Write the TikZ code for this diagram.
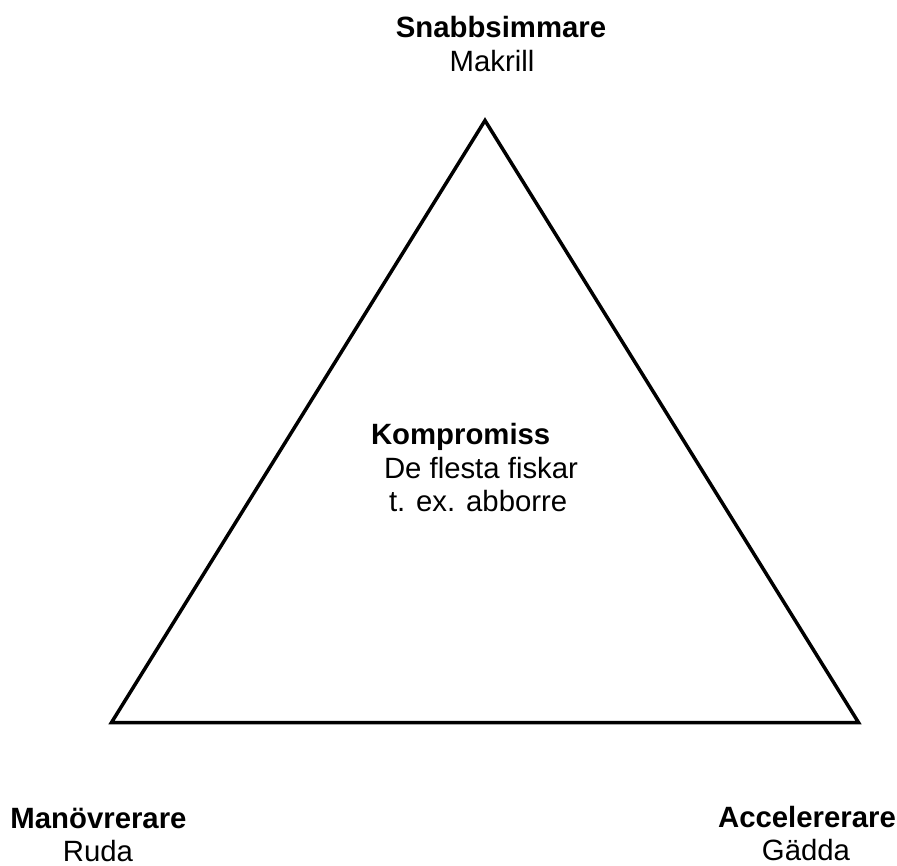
\documentclass[tikz,border=0pt]{standalone}
\usepackage{fontspec}
\setmainfont{Liberation Sans}
\begin{document}
\begin{tikzpicture}[x=1pt,y=-1pt,
  lbl/.style={inner sep=0pt,outer sep=0pt,font=\fontsize{29.33}{34}\selectfont},
  head/.style={lbl,font=\fontsize{29.33}{34}\selectfont\bfseries},
  tri/.style={line width=3.5pt,line join=miter}]
\useasboundingbox (0,0) rectangle (897,866);
\coordinate (top) at (485,120.5);
\coordinate (bl) at (111.5,722.5);
\coordinate (br) at (858.5,722.5);
\draw[tri] (top) -- (bl) -- (br) -- cycle;
\node[head,anchor=base] (snabb) at (501,38) {Snabbsimmare};
\node[lbl,anchor=base] (makrill) at (492,72) {Makrill};
\node[head,anchor=base west] (komp) at (371,444) {Kompromiss};
\node[lbl,anchor=base west] (flesta) at (384,478) {De flesta fiskar};
\node[lbl,anchor=base west] (abborre) at (389,511) {t. ex. abborre};
\node[head,anchor=base] (manov) at (98.5,828) {Manövrerare};
\node[lbl,anchor=base] (ruda) at (98,861) {Ruda};
\node[head,anchor=base] (accel) at (807,827) {Accelererare};
\node[lbl,anchor=base] (gadda) at (806,860) {Gädda};
\end{tikzpicture}
\end{document}
